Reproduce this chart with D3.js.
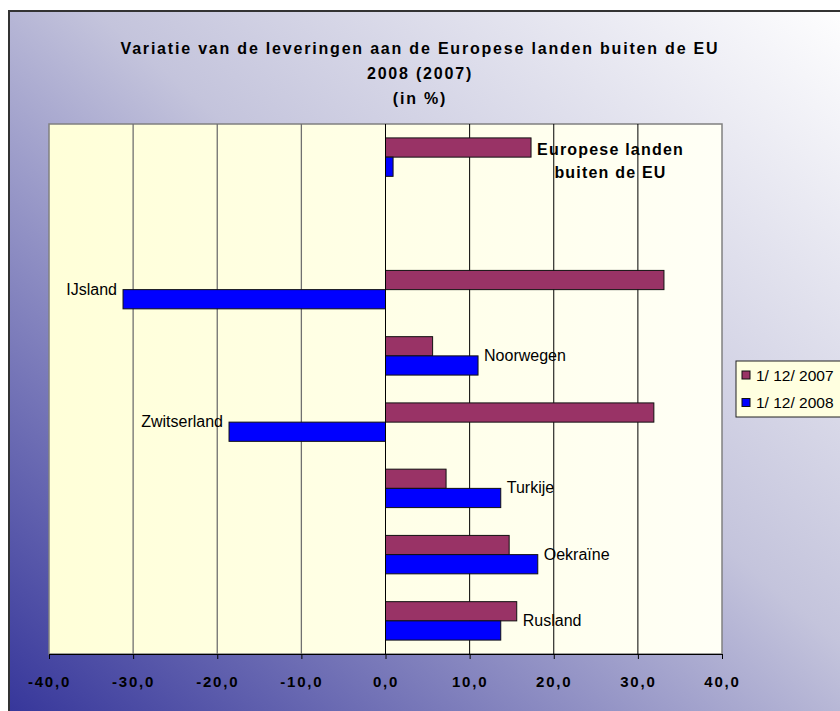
<!DOCTYPE html>
<html lang="nl">
<head>
<meta charset="UTF-8">
<script src="https://cdn.jsdelivr.net/npm/d3@7"></script>
<title>Variatie leveringen</title>
<style>
    body { margin: 0; background: #fff; overflow: hidden; }
    svg text { font-family: "Liberation Sans", Arial, sans-serif; }
    .title { font-size: 16px; font-weight: bold; letter-spacing: 1.8px; }
    .tick text { font-size: 15px; font-weight: bold; letter-spacing: 1.8px; }
    .lbl { font-size: 16px; }
    .legend text { font-size: 15.5px; }
</style>
</head>
<body>
<div id="chart"></div>
<script>
    // data
    var categories = ["Europese landen buiten de EU", "", "IJsland", "Noorwegen", "Zwitserland", "Turkije", "Oekraïne", "Rusland"];
    var seriesNames = ["1/ 12/ 2007", "1/ 12/ 2008"];
    var values2007 = [17.3, null, 33.1, 5.6, 31.9, 7.2, 14.7, 15.6];
    var values2008 = [0.9, null, -31.2, 11.0, -18.6, 13.7, 18.1, 13.7];
    var xTicks = [-40, -30, -20, -10, 0, 10, 20, 30, 40];
    var titleLines = ["Variatie van de leveringen aan de Europese landen buiten de EU", "2008 (2007)", "(in %)"];

    var W = 840, H = 711;
    var plot = {left: 49, right: 722, top: 124, bottom: 654};
    var colors = ["#993366", "#0000ff"];

    var svg = d3.select("#chart").append("svg")
        .attr("width", W)
        .attr("height", H);

    var defs = svg.append("defs");
    var bg = defs.append("linearGradient").attr("id", "bg")
        .attr("x1", "0%").attr("y1", "100%").attr("x2", "100%").attr("y2", "0%");
    bg.append("stop").attr("offset", "0%").attr("stop-color", "#333399");
    bg.append("stop").attr("offset", "55%").attr("stop-color", "#c4c4dc");
    bg.append("stop").attr("offset", "100%").attr("stop-color", "#ffffff");

    var pg = defs.append("linearGradient").attr("id", "pg")
        .attr("x1", "0%").attr("y1", "0%").attr("x2", "100%").attr("y2", "0%");
    pg.append("stop").attr("offset", "0%").attr("stop-color", "#ffffd8");
    pg.append("stop").attr("offset", "100%").attr("stop-color", "#fffff6");

    // chart area
    svg.append("rect")
        .attr("x", 9).attr("y", 11)
        .attr("width", W + 10).attr("height", H + 10)
        .attr("fill", "url(#bg)")
        .attr("stroke", "#333").attr("stroke-width", 2);

    // title
    svg.selectAll(".title").data(titleLines).enter()
        .append("text")
        .attr("class", "title")
        .attr("x", 420)
        .attr("y", (d, i) => 54 + i * 24.8)
        .attr("text-anchor", "middle")
        .text(d => d);

    var x = d3.scaleLinear().domain([-40, 40]).range([plot.left, plot.right]);
    var y = d3.scaleBand().domain(d3.range(categories.length))
        .range([plot.top, plot.bottom])
        .paddingInner(0.42).paddingOuter(0.21);
    var ySub = d3.scaleBand().domain([0, 1]).range([0, y.bandwidth()]);

    // plot area
    svg.append("rect")
        .attr("x", plot.left).attr("y", plot.top)
        .attr("width", plot.right - plot.left).attr("height", plot.bottom - plot.top)
        .attr("fill", "url(#pg)")
        .attr("stroke", "#808080").attr("stroke-width", 1.5);

    // grid
    svg.selectAll(".grid").data(xTicks.filter(d => d > -40 && d < 40)).enter()
        .append("line")
        .attr("x1", d => x(d)).attr("x2", d => x(d))
        .attr("y1", plot.top).attr("y2", plot.bottom)
        .attr("stroke", d => d < 0 ? "#707070" : "#000")
        .attr("stroke-width", d => d < 0 ? 1.3 : 1);

    // bars
    var rows = categories.map((c, i) => ({c: c, i: i, v: [values2007[i], values2008[i]]}));
    var bars = [];
    rows.forEach(r => r.v.forEach((v, s) => { if (v != null) bars.push({i: r.i, s: s, v: v}); }));

    svg.selectAll(".bar").data(bars).enter()
        .append("rect")
        .attr("x", d => x(Math.min(0, d.v)))
        .attr("y", d => y(d.i) + ySub(d.s))
        .attr("width", d => Math.abs(x(d.v) - x(0)))
        .attr("height", ySub.bandwidth())
        .attr("fill", d => colors[d.s])
        .attr("stroke", "#111").attr("stroke-width", 1);

    // zero axis
    svg.append("line")
        .attr("x1", x(0)).attr("x2", x(0))
        .attr("y1", plot.top).attr("y2", plot.bottom)
        .attr("stroke", "#000");

    // x axis
    var xAxis = d3.axisBottom(x).tickValues(xTicks)
        .tickFormat(d => d3.format(".1f")(d).replace(".", ",").replace("−", "-"))
        .tickSize(5).tickSizeOuter(0).tickPadding(17);
    var ax = svg.append("g")
        .attr("transform", "translate(0," + plot.bottom + ")")
        .call(xAxis);
    ax.select(".domain").attr("stroke", "#000");
    ax.selectAll(".tick line").attr("stroke", "#000");
    ax.selectAll(".tick text").attr("fill", "#000").attr("font-family", null).attr("font-size", null);

    // category labels: left of a negative 2008 bar, else right of the longest bar
    rows.filter(r => r.c && r.i > 0).forEach(r => {
        var neg = r.v[1] < 0;
        svg.append("text")
            .attr("class", "lbl")
            .attr("x", neg ? x(r.v[1]) - 6 : x(d3.max(r.v)) + 6)
            .attr("y", y(r.i) + y.bandwidth() / 2 + 5)
            .attr("text-anchor", neg ? "end" : "start")
            .text(r.c);
    });

    // first category: bold two-line label
    var first = rows[0];
    var lines = ["Europese landen", "buiten de EU"];
    var ft = svg.append("text")
        .attr("class", "lbl")
        .attr("font-size", "15px")
        .attr("font-weight", "bold")
        .attr("letter-spacing", "1.2px")
        .attr("text-anchor", "middle");
    ft.selectAll("tspan").data(lines).enter()
        .append("tspan")
        .text(d => d);
    var wmax = d3.max(ft.selectAll("tspan").nodes(), n => n.getComputedTextLength());
    ft.selectAll("tspan")
        .attr("x", x(d3.max(first.v)) + 6 + wmax / 2)
        .attr("y", (d, i) => y(0) + 17 + i * 23.5);

    // legend
    var lg = svg.append("g").attr("class", "legend")
        .attr("transform", "translate(736,361)");
    lg.append("rect")
        .attr("width", 120).attr("height", 56)
        .attr("fill", "#ffffe0").attr("stroke", "#222").attr("stroke-width", 1);
    var li = lg.selectAll(".li").data(seriesNames).enter()
        .append("g")
        .attr("transform", (d, i) => "translate(6," + (14 + i * 27.5) + ")");
    li.append("rect")
        .attr("x", 0).attr("y", -4).attr("width", 8).attr("height", 8)
        .attr("fill", (d, i) => colors[i]).attr("stroke", "#111");
    li.append("text")
        .attr("x", 14).attr("y", 5.5)
        .text(d => d);
</script>
</body>
</html>
